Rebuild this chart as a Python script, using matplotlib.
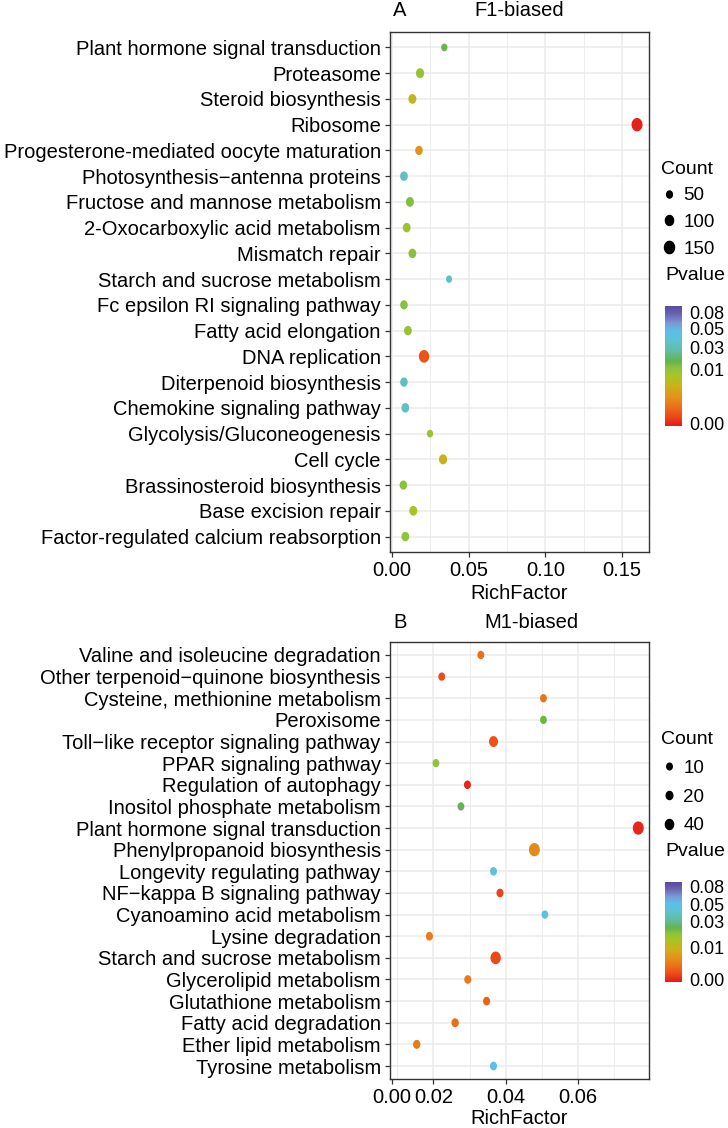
import numpy as np
import matplotlib
matplotlib.use("Agg")
import matplotlib.pyplot as plt
from matplotlib.colors import LinearSegmentedColormap, FuncNorm, Normalize
from matplotlib.cm import ScalarMappable
from matplotlib.path import Path
from matplotlib.lines import Line2D

plt.rcParams["font.family"] = ["Liberation Sans", "DejaVu Sans"]

# ---- data: panel A (F1-biased) ----
terms_a = [
    "Plant hormone signal transduction", "Proteasome", "Steroid biosynthesis",
    "Ribosome", "Progesterone-mediated oocyte maturation",
    "Photosynthesis\u2212antenna proteins", "Fructose and mannose metabolism",
    "2-Oxocarboxylic acid metabolism", "Mismatch repair",
    "Starch and sucrose metabolism", "Fc epsilon RI signaling pathway",
    "Fatty acid elongation", "DNA replication", "Diterpenoid biosynthesis",
    "Chemokine signaling pathway", "Glycolysis/Gluconeogenesis", "Cell cycle",
    "Brassinosteroid biosynthesis", "Base excision repair",
    "Factor-regulated calcium reabsorption",
]
rich_a = [0.0341, 0.0183, 0.0133, 0.1598, 0.0176, 0.0078, 0.0117, 0.0096, 0.0133, 0.0372,
          0.0078, 0.0104, 0.0209, 0.0078, 0.0087, 0.0248, 0.0333, 0.0074, 0.0139, 0.0087]
count_a = [60, 100, 95, 180, 85, 90, 95, 90, 90, 55,
           85, 90, 160, 85, 90, 60, 100, 85, 95, 90]
pval_a = [0.0163, 0.0097, 0.0073, 0.0, 0.0049, 0.0335, 0.013, 0.0095, 0.012, 0.0335,
          0.012, 0.0097, 0.0018, 0.0335, 0.0335, 0.0093, 0.0071, 0.0115, 0.0088, 0.0103]

# ---- data: panel B (M1-biased) ----
terms_b = [
    "Valine and isoleucine degradation", "Other terpenoid\u2212quinone biosynthesis",
    "Cysteine, methionine metabolism", "Peroxisome",
    "Toll\u2212like receptor signaling pathway", "PPAR signaling pathway",
    "Regulation of autophagy", "Inositol phosphate metabolism",
    "Plant hormone signal transduction", "Phenylpropanoid biosynthesis",
    "Longevity regulating pathway", "NF\u2212kappa B signaling pathway",
    "Cyanoamino acid metabolism", "Lysine degradation",
    "Starch and sucrose metabolism", "Glycerolipid metabolism",
    "Glutathione metabolism", "Fatty acid degradation", "Ether lipid metabolism",
    "Tyrosine metabolism",
]
rich_b = [0.0331, 0.0223, 0.0504, 0.0504, 0.0366, 0.0207, 0.0294, 0.0276, 0.0766, 0.0479,
          0.0366, 0.0384, 0.0508, 0.0189, 0.0372, 0.0295, 0.0347, 0.0260, 0.0154, 0.0366]
count_b = [22, 22, 22, 22, 52, 22, 24, 22, 89, 89,
           24, 25, 22, 25, 78, 25, 25, 28, 28, 25]
pval_b = [0.0043, 0.0021, 0.0046, 0.0242, 0.0024, 0.0197, 0.0, 0.0257, 0.0, 0.0062,
          0.046, 0.0015, 0.046, 0.0053, 0.0018, 0.005, 0.0034, 0.0043, 0.005, 0.0496]

pval_ticks = [0.00, 0.01, 0.03, 0.05, 0.08]
count_breaks_a = [50, 100, 150]
count_breaks_b = [10, 20, 40]

W, H = 728, 1128
DPI = 100


def fx(x):
    return x / W


def fy(y):
    return 1 - y / H


def uneven_norm(p_knots, f_knots):
    # the original colourbars are not linear in pvalue
    return FuncNorm((lambda p: np.interp(p, p_knots, f_knots),
                     lambda f: np.interp(f, f_knots, p_knots)),
                    vmin=p_knots[0], vmax=p_knots[-1])


norm_a = uneven_norm([-0.00042, 0.0, 0.01, 0.03, 0.05, 0.08, 0.0919],
                     [0.0, 0.019, 0.474, 0.652, 0.813, 0.947, 1.0])
norm_b = uneven_norm([-0.00073, 0.0, 0.01, 0.03, 0.05, 0.08, 0.0885],
                     [0.0, 0.023, 0.34, 0.607, 0.773, 0.95, 1.0])

cmap = LinearSegmentedColormap.from_list("pv", [
    (0.00, "#e41a1c"), (0.08, "#ec4a18"), (0.16, "#ec7018"), (0.24, "#e3921a"),
    (0.33, "#cdb01a"), (0.42, "#a8c423"), (0.48, "#8fc33a"), (0.54, "#62b54c"),
    (0.62, "#62bca0"), (0.70, "#5cc3cc"), (0.79, "#5bc0ea"), (0.86, "#7b98d2"),
    (0.93, "#6a66b3"), (1.00, "#5a4a9e"),
])

# slightly tall ellipse, like the dots in the picture
t = np.linspace(0, 2 * np.pi, 60)
ellipse = Path(np.column_stack([0.41 * np.cos(t), 0.5 * np.sin(t)]), closed=True)


def size_a(c):
    h = np.sqrt(np.asarray(c, float))
    return (h * 72 / DPI) ** 2


def size_b(c):
    h = 3.4 + 1.05 * np.sqrt(np.asarray(c, float))
    return (h * 72 / DPI) ** 2


def dot_panel(fig, rect, terms, rich, counts, pvals, size_fn, norm, xlim):
    ax = fig.add_axes(rect)
    n = len(terms)
    y = np.arange(n)
    ax.scatter(rich, y, s=size_fn(counts), c=pvals, cmap=cmap, norm=norm,
               marker=ellipse, linewidths=0, zorder=3)
    ax.set_yticks(y, terms)
    ax.set_ylim(n - 0.4, -0.6)
    ax.set_xlim(*xlim)
    ax.set_facecolor("white")
    ax.grid(True, which="major", color="#ebebeb", lw=1.1, zorder=0)
    ax.grid(True, which="minor", axis="x", color="#ebebeb", lw=0.6, zorder=0)
    ax.set_axisbelow(True)
    for s in ax.spines.values():
        s.set_color("#333333")
        s.set_linewidth(1.0)
    ax.tick_params(which="major", length=3.6, width=0.9, color="#333333",
                   labelsize=14.5, labelcolor="black", pad=3)
    ax.tick_params(which="minor", length=0)
    ax.set_xlabel("RichFactor", fontsize=14.5, labelpad=3)
    return ax


def side_legend(fig, ax, breaks, size_fn, norm, top, spacing, bar_top, bar_h):
    handles = [Line2D([], [], ls="none", marker=ellipse, color="black",
                      markersize=np.sqrt(size_fn(b))) for b in breaks]
    ax.legend(handles, [str(b) for b in breaks], title="Count",
              loc="upper left", bbox_to_anchor=(fx(661), fy(top)),
              bbox_transform=fig.transFigure, frameon=False,
              fontsize=13.5, title_fontsize=14, alignment="left",
              borderpad=0, handlelength=0.8, handletextpad=0.4,
              labelspacing=spacing, borderaxespad=0)
    fig.text(fx(665), fy(bar_top - 31), "Pvalue", fontsize=14, va="center", ha="left")
    cax = fig.add_axes([fx(665), fy(bar_top + bar_h), fx(17), bar_h / H])
    # bar drawn on the normalised scale, ticks put where the pvalues fall
    sm = ScalarMappable(norm=Normalize(0, 1), cmap=cmap)
    cb = fig.colorbar(sm, cax=cax, ticks=norm(pval_ticks))
    cb.set_ticklabels(["%.2f" % v for v in pval_ticks])
    cb.outline.set_visible(False)
    cax.tick_params(length=0, labelsize=13, pad=5)
    return cb


fig = plt.figure(figsize=(W / DPI, H / DPI), dpi=DPI)

# panel A
ax_a = dot_panel(fig, [fx(390), fy(552), fx(259), 520 / H], terms_a, rich_a,
                 count_a, pval_a, size_a, norm_a, (-0.0013, 0.1676))
ax_a.set_xticks([0.00, 0.05, 0.10, 0.15], ["0.00", "0.05", "0.10", "0.15"])
ax_a.set_xticks([0.025, 0.075, 0.125], minor=True)
fig.text(fx(393), fy(10), "A", fontsize=14.5, va="center", ha="left")
fig.text(fx(519), fy(10), "F1-biased", fontsize=14.5, va="center", ha="center")
side_legend(fig, ax_a, count_breaks_a, size_a, norm_a, 161, 0.5, 306, 120)

# panel B
ax_b = dot_panel(fig, [fx(390), fy(1079), fx(259), 437 / H], terms_b, rich_b,
                 count_b, pval_b, size_b, norm_b, (0.00801, 0.07956))
ax_b.set_xticks([0.0086, 0.02, 0.04, 0.06], ["0.00", "0.02", "0.04", "0.06"])
ax_b.set_xticks([0.01, 0.03, 0.05, 0.07], minor=True)
ax_b.xaxis.get_major_ticks()[0].gridline.set_visible(False)
ax_b.xaxis.labelpad = 1
fig.text(fx(393), fy(623), "B", fontsize=14.5, va="center", ha="left")
fig.text(fx(531), fy(623), "M1-biased", fontsize=14.5, va="center", ha="center")
side_legend(fig, ax_b, count_breaks_b, size_b, norm_b, 731, 0.62, 882, 100)

fig.savefig("out.png", dpi=DPI)
